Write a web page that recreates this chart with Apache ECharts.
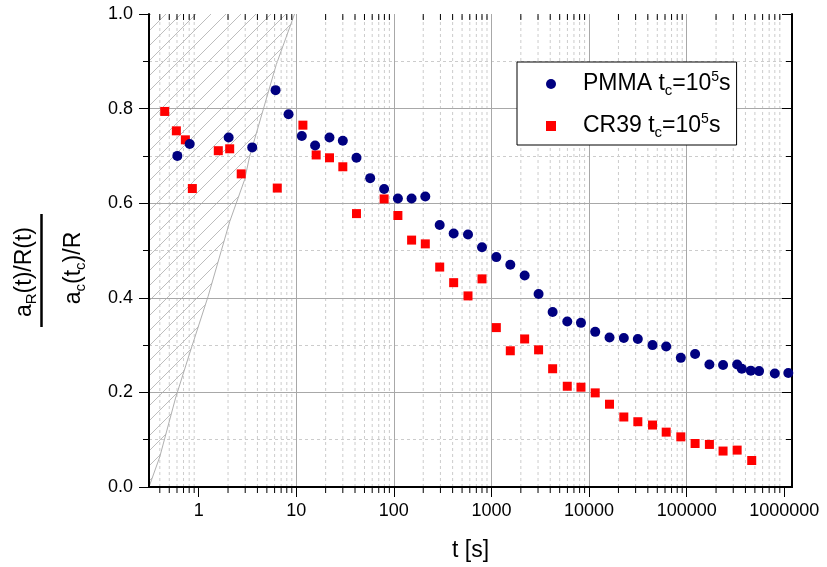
<!DOCTYPE html>
<html>
<head>
<meta charset="utf-8">
<script src="https://cdn.jsdelivr.net/npm/echarts@6/dist/echarts.min.js"></script>
<style>html,body{margin:0;padding:0;background:#fff}#c{width:827px;height:567px}</style>
</head>
<body>
<div id="c"></div>
<script>
// ---- data ----
const PMMA_T = [0.605, 0.81, 2.03, 3.54, 6.14, 8.34, 11.4, 15.6, 21.9, 30, 41.4, 57.2, 79.5, 110, 152, 210, 295, 410, 575, 800, 1122, 1560, 2188, 3040, 4234, 5980, 8260, 11560, 16200, 22700, 31600, 44700, 61700, 87100, 122000, 171000, 236000, 329000, 367000, 454000, 552000, 800000, 1100000];
const PMMA_A = [0.700, 0.725, 0.739, 0.718, 0.839, 0.788, 0.742, 0.722, 0.739, 0.732, 0.696, 0.653, 0.630, 0.610, 0.610, 0.614, 0.554, 0.536, 0.534, 0.507, 0.486, 0.470, 0.447, 0.408, 0.370, 0.350, 0.347, 0.328, 0.316, 0.315, 0.313, 0.300, 0.297, 0.273, 0.281, 0.259, 0.258, 0.259, 0.250, 0.246, 0.245, 0.240, 0.241];
const CR39_T = [0.449, 0.591, 0.731, 0.862, 1.59, 2.08, 2.73, 6.39, 11.7, 16, 21.9, 30, 41.4, 79.5, 110, 152, 210, 295, 410, 575, 800, 1122, 1560, 2188, 3040, 4234, 5980, 8260, 11560, 16200, 22700, 31600, 44700, 61700, 87100, 122000, 171000, 236000, 329000, 464000];
const CR39_A = [0.794, 0.753, 0.734, 0.631, 0.711, 0.715, 0.662, 0.632, 0.765, 0.702, 0.696, 0.677, 0.578, 0.609, 0.574, 0.522, 0.514, 0.465, 0.432, 0.404, 0.440, 0.337, 0.288, 0.313, 0.290, 0.250, 0.213, 0.211, 0.199, 0.175, 0.148, 0.138, 0.131, 0.116, 0.106, 0.092, 0.090, 0.076, 0.078, 0.056];
// hatched (excluded) region boundary
const HATCH_T = [0.31, 0.40, 0.58, 0.81, 1.25, 2.08, 2.96, 3.33, 6.24, 9.6];
const HATCH_A = [0.0, 0.064, 0.188, 0.283, 0.403, 0.561, 0.650, 0.699, 0.893, 1.0];
// axes
const X_MIN = 0.31, X_MAX = 1.2e6;
const Y_MIN = 0, Y_MAX = 1;
const X_MAJOR = [1, 10, 100, 1000, 10000, 100000, 1000000];
const MINOR_MULT = [2, 3, 4, 5, 6, 7, 8, 9];
const X_MINOR = [];
[0.1, 1, 10, 100, 1000, 10000, 100000].forEach(d => MINOR_MULT.forEach(m => {
  const v = d * m; if (v > X_MIN && v < X_MAX) X_MINOR.push(v);
}));
const LEGEND_NAMES = ['PMMA', 'CR39'];

const FONT = "'Liberation Sans', Arial, Helvetica, sans-serif";

function makeHatch() {
  const s = 15;
  const c = document.createElement('canvas'); c.width = s; c.height = s;
  const g = c.getContext('2d');
  g.strokeStyle = '#bdbdbd'; g.lineWidth = 1;
  g.beginPath();
  g.moveTo(0, s); g.lineTo(s, 0);
  g.moveTo(-s, s); g.lineTo(s, -s);
  g.moveTo(0, 2 * s); g.lineTo(2 * s, 0);
  g.stroke();
  return c;
}
const hatch = makeHatch();

const chart = echarts.init(document.getElementById('c'), null, {renderer: 'canvas'});

const axisBlack = {show: true, lineStyle: {color: '#000', width: 2}};
const majorSplit = {show: true, showMinLine: false, showMaxLine: false, lineStyle: {color: '#a8a8a8', width: 1}};
const option = {
  animation: false,
  backgroundColor: '#fff',
  textStyle: {fontFamily: FONT},
  grid: {left: 149, right: 35, top: 14, bottom: 80},
  xAxis: [{
    type: 'log', logBase: 10, min: X_MIN, max: X_MAX, position: 'bottom', z: 3,
    axisLine: axisBlack,
    axisTick: {show: true, customValues: X_MAJOR, length: 10, lineStyle: {color: '#000', width: 1}},
    axisLabel: {customValues: X_MAJOR, fontSize: 18, color: '#000', margin: 15, fontFamily: FONT,
      formatter: v => String(Math.round(v))},
    splitLine: majorSplit,
    name: 't [s]', nameLocation: 'middle', nameGap: 52,
    nameTextStyle: {fontSize: 23, color: '#000', fontFamily: FONT}
  }, {
    type: 'log', logBase: 10, min: X_MIN, max: X_MAX, position: 'top', z: 3,
    axisLine: axisBlack,
    axisTick: {show: true, inside: true, customValues: X_MAJOR, length: 10, lineStyle: {color: '#000', width: 1}},
    axisLabel: {show: false}, splitLine: {show: false}
  }],
  yAxis: [{
    type: 'value', min: Y_MIN, max: Y_MAX, interval: 0.2, position: 'left', z: 3,
    axisLine: axisBlack,
    axisTick: {show: true, length: 10, lineStyle: {color: '#000', width: 1}},
    minorTick: {show: true, splitNumber: 2, length: 6, lineStyle: {color: '#000', width: 1}},
    axisLabel: {fontSize: 18, color: '#000', margin: 16, fontFamily: FONT, formatter: v => v.toFixed(1)},
    splitLine: majorSplit,
    minorSplitLine: {show: true, lineStyle: {color: '#cccccc', width: 1, type: [3, 3]}}
  }, {
    type: 'value', min: Y_MIN, max: Y_MAX, interval: 0.2, position: 'right', z: 3,
    axisLine: axisBlack,
    axisTick: {show: true, inside: true, length: 10, lineStyle: {color: '#000', width: 1}},
    minorTick: {show: true, splitNumber: 2, length: 6, lineStyle: {color: '#000', width: 1}},
    axisLabel: {show: false}, splitLine: {show: false}
  }],
  legend: {
    orient: 'vertical', left: 517, top: 62,
    padding: [8, 6, 5, 29], itemGap: 14, itemWidth: 10, itemHeight: 10,
    borderColor: '#000', borderWidth: 1, backgroundColor: '#fff',
    data: LEGEND_NAMES,
    formatter: n => n + ' t{sub|c}=10{sup|5}s',
    textStyle: {fontSize: 23, color: '#000', fontFamily: FONT, lineHeight: 28, padding: [0, 0, 0, 22],
      rich: {
        sub: {fontSize: 15, color: '#000', fontFamily: FONT, verticalAlign: 'bottom', lineHeight: 10},
        sup: {fontSize: 14, color: '#000', fontFamily: FONT, verticalAlign: 'top', lineHeight: 18}
      }}
  },
  graphic: [
    {type: 'text', x: 25, y: 272, rotation: Math.PI / 2, z: 10,
      style: {text: 'a{sub|R}(t)/R(t)', fontSize: 23, fontFamily: FONT, fill: '#000',
        align: 'center', verticalAlign: 'middle', lineHeight: 28,
        rich: {sub: {fontSize: 15, fontFamily: FONT, fill: '#000', verticalAlign: 'bottom', lineHeight: 10}}}},
    {type: 'line', z: 10, shape: {x1: 41.5, y1: 214, x2: 41.5, y2: 327}, style: {stroke: '#000', lineWidth: 2.5}},
    {type: 'text', x: 74, y: 268, rotation: Math.PI / 2, z: 10,
      style: {text: 'a{sub|c}(t{sub|c})/R', fontSize: 23, fontFamily: FONT, fill: '#000',
        align: 'center', verticalAlign: 'middle', lineHeight: 28,
        rich: {sub: {fontSize: 15, fontFamily: FONT, fill: '#000', verticalAlign: 'bottom', lineHeight: 10}}}}
  ],
  series: [
    { // minor dashed vertical grid lines
      type: 'custom', silent: true, z: 1, xAxisIndex: 0, yAxisIndex: 0,
      data: X_MINOR.map(v => [v, Y_MIN]),
      renderItem: (params, api) => {
        const x = api.value(0);
        const b = api.coord([x, Y_MIN]), t = api.coord([x, Y_MAX]);
        return {type: 'line', shape: {x1: b[0], y1: b[1], x2: t[0], y2: t[1]},
          style: {stroke: '#cccccc', lineWidth: 1, lineDash: [3, 3]}};
      }
    },
    { // hatched region
      type: 'custom', silent: true, z: 2, xAxisIndex: 0, yAxisIndex: 0,
      data: [[HATCH_T[0], HATCH_A[0]]],
      renderItem: (params, api) => {
        const edge = HATCH_T.map((t, i) => api.coord([t, HATCH_A[i]]));
        const poly = edge.concat([api.coord([X_MIN, Y_MAX])]);
        return {type: 'group', children: [
          {type: 'polygon', shape: {points: poly}, style: {fill: {image: hatch, repeat: 'repeat'}, stroke: null}},
          {type: 'polyline', shape: {points: edge}, style: {stroke: '#b0b0b0', lineWidth: 1, fill: null}}
        ]};
      }
    },
    { // minor x ticks (bottom outward, top inward)
      type: 'custom', silent: true, z: 5, xAxisIndex: 0, yAxisIndex: 0, clip: false,
      data: X_MINOR.map(v => [v, Y_MIN]),
      renderItem: (params, api) => {
        const x = api.value(0);
        const b = api.coord([x, Y_MIN]), t = api.coord([x, Y_MAX]);
        return {type: 'group', children: [
          {type: 'line', shape: {x1: b[0], y1: b[1], x2: b[0], y2: b[1] + 6}, style: {stroke: '#000', lineWidth: 1}},
          {type: 'line', shape: {x1: t[0], y1: t[1], x2: t[0], y2: t[1] + 6}, style: {stroke: '#000', lineWidth: 1}}
        ]};
      }
    },
    {
      name: 'PMMA', type: 'scatter', z: 4, symbol: 'circle', symbolSize: 10,
      itemStyle: {color: '#000080', opacity: 1},
      data: PMMA_T.map((t, i) => [t, PMMA_A[i]])
    },
    {
      name: 'CR39', type: 'scatter', z: 3, symbol: 'rect', symbolSize: 9,
      itemStyle: {color: '#ff0000', opacity: 1},
      data: CR39_T.map((t, i) => [t, CR39_A[i]])
    }
  ]
};
chart.setOption(option);
</script>
</body>
</html>
